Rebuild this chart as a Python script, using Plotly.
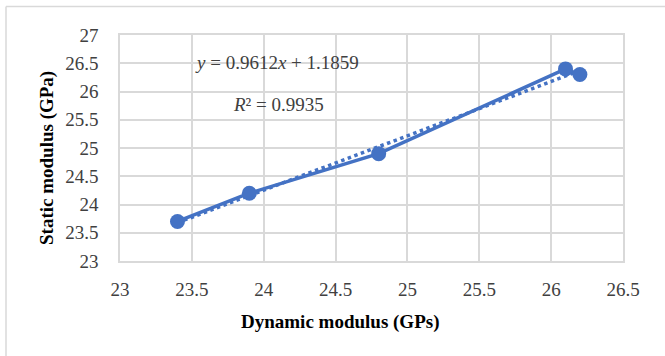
import plotly.graph_objects as go

dynamic_modulus = [23.4, 23.9, 24.8, 26.1, 26.2]
static_modulus = [23.7, 24.2, 24.9, 26.4, 26.3]
trend_slope = 0.9612
trend_intercept = 1.1859
x_ticks = [23, 23.5, 24, 24.5, 25, 25.5, 26, 26.5]
y_ticks = [23, 23.5, 24, 24.5, 25, 25.5, 26, 26.5, 27]

BLUE = "#4472C4"
GRID = "#D9D9D9"
FONT = "'Liberation Serif', 'Times New Roman', serif"

tx = [min(dynamic_modulus), max(dynamic_modulus)]
ty = [trend_slope * v + trend_intercept for v in tx]

fig = go.Figure()
fig.add_trace(go.Scatter(x=tx, y=ty, mode="lines",
                         line=dict(color=BLUE, width=3.5, dash="dot"),
                         showlegend=False, hoverinfo="skip"))
fig.add_trace(go.Scatter(x=dynamic_modulus, y=static_modulus, mode="lines+markers",
                         line=dict(color=BLUE, width=3.5),
                         marker=dict(color=BLUE, size=15),
                         showlegend=False))

L, R, T, B = 120, 42, 35, 95
W, H = 665, 356
pw, ph = W - L - R, H - T - B

def px(x):
    return (x - L) / pw

def py(y):
    return (H - B - y) / ph

fig.update_layout(
    width=W, height=H,
    margin=dict(l=L, r=R, t=T, b=B),
    paper_bgcolor="white", plot_bgcolor="white",
    font=dict(family=FONT, size=19, color="#404040"),
    xaxis=dict(range=[23, 26.5], tickvals=x_ticks, ticktext=[f"{v:g}" for v in x_ticks],
               showgrid=True, gridcolor=GRID, gridwidth=1.5,
               showline=True, linecolor=GRID, linewidth=1.5, mirror=True,
               zeroline=False, ticks="", ticklabelstandoff=10,
               tickfont=dict(family=FONT, size=19, color="#404040")),
    yaxis=dict(range=[23, 27], tickvals=y_ticks, ticktext=[f"{v:g}" for v in y_ticks],
               showgrid=True, gridcolor=GRID, gridwidth=1.5,
               showline=True, linecolor=GRID, linewidth=1.5, mirror=True,
               zeroline=False, ticks="", ticklabelstandoff=16,
               tickfont=dict(family=FONT, size=19, color="#404040")),
    annotations=[
        dict(xref="paper", yref="paper", x=px(277), y=py(63), showarrow=False,
             text="<i>y</i> = 0.9612<i>x</i> + 1.1859",
             font=dict(family=FONT, size=19, color="#404040"), xanchor="center", yanchor="middle"),
        dict(xref="paper", yref="paper", x=px(278), y=py(104), showarrow=False,
             text="<i>R</i>² = 0.9935",
             font=dict(family=FONT, size=19, color="#404040"), xanchor="center", yanchor="middle"),
        dict(xref="paper", yref="paper", x=px(340), y=py(322), showarrow=False,
             text="<b>Dynamic modulus (GPs)</b>",
             font=dict(family=FONT, size=19, color="#000000"), xanchor="center", yanchor="middle"),
        dict(xref="paper", yref="paper", x=px(47), y=py(158), showarrow=False,
             text="<b>Static modulus (GPa)</b>", textangle=-90,
             font=dict(family=FONT, size=19, color="#000000"), xanchor="center", yanchor="middle"),
    ],
    shapes=[
        dict(type="line", xref="paper", yref="paper", x0=px(6), x1=px(6), y0=py(6.5), y1=py(400),
             line=dict(color=GRID, width=1.5)),
        dict(type="line", xref="paper", yref="paper", x0=px(6), x1=px(700), y0=py(6.5), y1=py(6.5),
             line=dict(color=GRID, width=1.5)),
    ],
)

fig.write_html("out.html")
